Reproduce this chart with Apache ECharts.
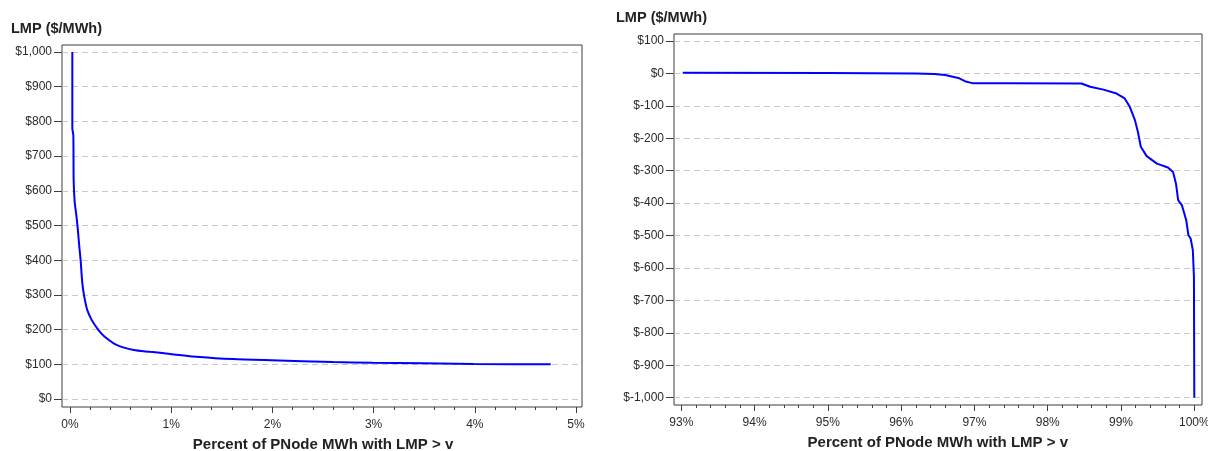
<!DOCTYPE html>
<html>
<head>
<meta charset="utf-8">
<script src="https://cdn.jsdelivr.net/npm/echarts@6/dist/echarts.min.js"></script>
<style>
  html, body { margin: 0; padding: 0; background: #fff; }
  #chart { width: 1208px; height: 451px; }
</style>
</head>
<body>
<div id="chart"></div>
<script>
// High-price tail: percent of PNode MWh with LMP above v (left panel)
const highPct = [0.023, 0.023, 0.033, 0.036, 0.046, 0.060, 0.076, 0.092, 0.105, 0.122, 0.141, 0.171, 0.214, 0.280, 0.340, 0.460, 0.630, 0.790, 0.990, 1.280, 1.610, 1.990, 2.600, 2.990, 3.990, 4.750];
const highLmp = [1000, 780, 760, 631, 569, 536, 493, 439, 400, 333, 295, 256, 228, 199, 180, 156, 141, 136, 130, 121, 115, 111.5, 106.6, 104.6, 101, 100];

// Low-price tail (right panel)
const lowPct = [93.02, 95.00, 96.20, 96.45, 96.60, 96.78, 96.87, 96.97, 97.50, 98.46, 98.58, 98.76, 98.94, 99.05, 99.12, 99.19, 99.23, 99.27, 99.35, 99.49, 99.64, 99.71, 99.75, 99.78, 99.83, 99.89, 99.92, 99.95, 99.98, 99.995, 100];
const lowLmp = [2, 1, 0, -2, -5, -14, -24, -30, -30, -31, -41, -50, -62, -77, -103, -144, -180, -226, -255, -278, -290, -304, -340, -391, -406, -453, -499, -509, -545, -628, -1000];

// Axis ranges / tick steps
const highXTicks = { min: 0, max: 5, step: 1 };
const highYTicks = { min: 0, max: 1000, step: 100 };
const lowXTicks = { min: 93, max: 100, step: 1 };
const lowYTicks = { min: -1000, max: 100, step: 100 };

const yTitle = 'LMP ($/MWh)';
const xTitle = 'Percent of PNode MWh with LMP > v';

const FONT = '"Liberation Sans", Arial, sans-serif';
const LINE_BLUE = '#0000ff';
const AXIS_DARK = '#3c3c3c';

function money(v) {
  const sign = v < 0 ? '-' : '';
  return '$' + sign + Math.abs(v).toLocaleString('en-US');
}
function pct(v) { return v + '%'; }
function zip(xs, ys) { return xs.map((x, i) => [x, ys[i]]); }

function hiddenAxis(gridIndex) {
  return { type: 'value', gridIndex, min: 0, max: 1, show: false };
}

function valueYAxis(gridIndex, t) {
  return {
    type: 'value', gridIndex, min: t.min, max: t.max, interval: t.step,
    axisLine: { show: false, onZero: false },
    axisTick: { show: true, length: 8, lineStyle: { color: AXIS_DARK, width: 1 } },
    axisLabel: { formatter: money, margin: 10, color: '#2a2a2a', fontSize: 12, fontFamily: FONT },
    splitLine: { show: true, lineStyle: { color: '#c8c8c8', width: 1, type: [6, 4] } }
  };
}

function valueXAxis(gridIndex, t, offset) {
  return {
    type: 'value', gridIndex, min: t.min, max: t.max, interval: t.step,
    position: 'bottom',
    offset,
    axisLine: { show: false, onZero: false },
    axisTick: { show: true, inside: false, length: 6, lineStyle: { color: AXIS_DARK, width: 1 } },
    minorTick: { show: true, splitNumber: 5, length: 3, lineStyle: { color: AXIS_DARK, width: 1 } },
    axisLabel: { formatter: pct, margin: 12, color: '#2a2a2a', fontSize: 12, fontFamily: FONT },
    splitLine: { show: false },
    minorSplitLine: { show: false },
    name: xTitle, nameLocation: 'middle', nameGap: 30,
    nameTextStyle: { fontWeight: 'bold', fontSize: 15, color: '#222', fontFamily: FONT }
  };
}

const frameGrid = { show: true, borderColor: AXIS_DARK, borderWidth: 1, backgroundColor: 'transparent', outerBoundsMode: 'none', containLabel: false };
const plainGrid = { show: false, outerBoundsMode: 'none', containLabel: false };

const chart = echarts.init(document.getElementById('chart'), null, { renderer: 'canvas' });

chart.setOption({
  animation: false,
  backgroundColor: '#fff',
  grid: [
    // left panel: frame, y-scale band, data area
    Object.assign({ left: 62, top: 45, width: 520, height: 362 }, frameGrid),
    Object.assign({ left: 62, top: 52, width: 520, height: 347 }, plainGrid),
    Object.assign({ left: 70, top: 52, width: 506, height: 347 }, plainGrid),
    // right panel
    Object.assign({ left: 674, top: 34, width: 528, height: 371 }, frameGrid),
    Object.assign({ left: 674, top: 41, width: 528, height: 356.7 }, plainGrid),
    Object.assign({ left: 681.3, top: 41, width: 513, height: 356.7 }, plainGrid)
  ],
  xAxis: [
    hiddenAxis(0),
    hiddenAxis(1),
    valueXAxis(2, highXTicks, 8),
    hiddenAxis(3),
    hiddenAxis(4),
    valueXAxis(5, lowXTicks, 7.3)
  ],
  yAxis: [
    hiddenAxis(0),
    valueYAxis(1, highYTicks),
    { type: 'value', gridIndex: 2, min: highYTicks.min, max: highYTicks.max, show: false },
    hiddenAxis(3),
    valueYAxis(4, lowYTicks),
    { type: 'value', gridIndex: 5, min: lowYTicks.min, max: lowYTicks.max, show: false }
  ],
  graphic: [
    { type: 'text', left: 11, top: 21, style: { text: yTitle, font: 'bold 14.5px ' + FONT, fill: '#222' } },
    { type: 'text', left: 616, top: 10, style: { text: yTitle, font: 'bold 14.5px ' + FONT, fill: '#222' } }
  ],
  series: [
    {
      type: 'line', xAxisIndex: 2, yAxisIndex: 2,
      data: zip(highPct, highLmp),
      showSymbol: false, smooth: 0.25,
      lineStyle: { color: LINE_BLUE, width: 2 }
    },
    {
      type: 'line', xAxisIndex: 5, yAxisIndex: 5,
      data: zip(lowPct, lowLmp),
      showSymbol: false, smooth: false,
      lineStyle: { color: LINE_BLUE, width: 2 }
    }
  ]
});
</script>
</body>
</html>
